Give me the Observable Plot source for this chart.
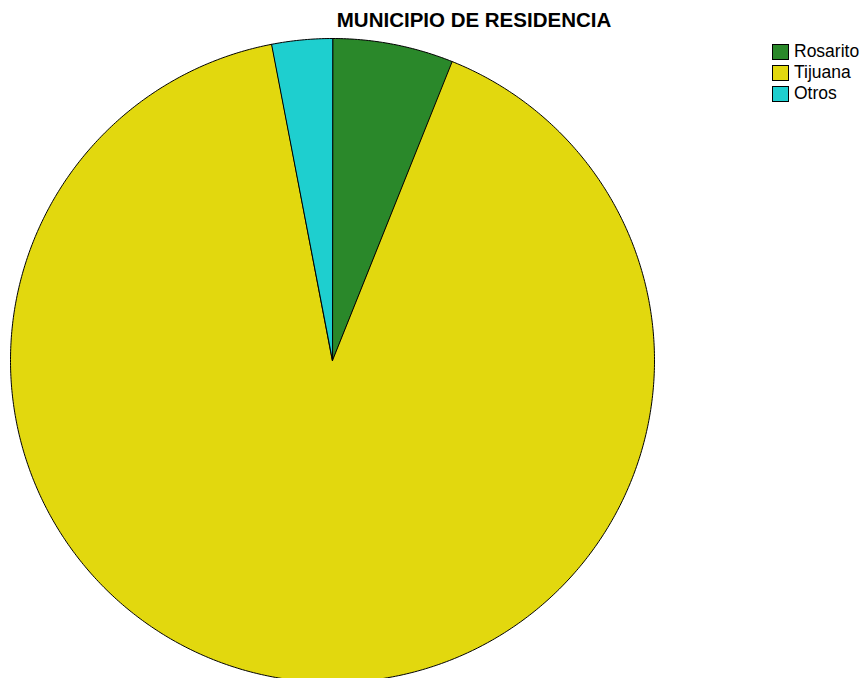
<!DOCTYPE html>
<html>
<head>
<meta charset="utf-8">
<script src="https://cdn.jsdelivr.net/npm/d3@7"></script>
<script src="https://cdn.jsdelivr.net/npm/@observablehq/plot@0.6"></script>
<style>
  html, body { margin: 0; padding: 0; background: #fff; }
  body { width: 865px; height: 678px; position: relative; overflow: hidden; font-family: "Liberation Sans", Arial, Helvetica, sans-serif; }
  #chart { position: absolute; left: 0; top: 0; }
  #chart svg { overflow: visible; }
  #title { position: absolute; left: 0; width: 948px; top: 8px; text-align: center; font-weight: bold; font-size: 20.5px; color: #000; line-height: 24px; }
  #legend { position: absolute; left: 772px; top: 41px; }
  .item { display: flex; align-items: center; height: 21px; font-size: 17.5px; color: #000; }
  .sw { width: 15px; height: 14px; border: 1px solid #000; margin-right: 5px; box-sizing: content-box; }
</style>
</head>
<body>
<div id="chart"></div>
<div id="title">MUNICIPIO DE RESIDENCIA</div>
<div id="legend"></div>
<script>
const categories = ["Rosarito", "Tijuana", "Otros"];
const counts = [2, 30, 1];
const colors = ["#2a882a", "#e2d80e", "#1ecfcf"];

(function () {
  const pie = d3.pie().sort(null).value(d => d.count)(categories.map((name, i) => ({name, count: counts[i]})));

  // Build slice outlines (center + arc) in unit-circle coordinates
  const pts = [];
  for (const s of pie) {
    pts.push({name: s.data.name, x: 0, y: 0});
    const n = Math.max(2, Math.ceil((s.endAngle - s.startAngle) / (Math.PI / 360)));
    for (let k = 0; k <= n; k++) {
      const a = s.startAngle + (s.endAngle - s.startAngle) * k / n;
      pts.push({name: s.data.name, x: Math.sin(a), y: Math.cos(a)});
    }
  }

  const W = 865, H = 678;
  const padL = 10, padR = 654, padT = 38;
  const rad = (padR - padL) / 2;
  const chart = Plot.plot({
    width: W,
    height: H,
    marginLeft: padL,
    marginRight: W - padR,
    marginTop: padT,
    marginBottom: 0,
    x: {domain: [-1, 1], axis: null},
    y: {domain: [1 - (H - padT) / rad, 1], axis: null},
    color: {domain: categories, range: colors},
    marks: [
      Plot.line(pts, {x: "x", y: "y", z: "name", fill: "name", stroke: "#000", strokeWidth: 1, curve: "linear-closed"})
    ]
  });
  document.getElementById("chart").appendChild(chart);

  const legend = document.getElementById("legend");
  categories.forEach((c, i) => {
    const it = document.createElement("div");
    it.className = "item";
    const sw = document.createElement("div");
    sw.className = "sw";
    sw.style.background = colors[i];
    it.appendChild(sw);
    it.appendChild(document.createTextNode(c));
    legend.appendChild(it);
  });
})();
</script>
</body>
</html>
